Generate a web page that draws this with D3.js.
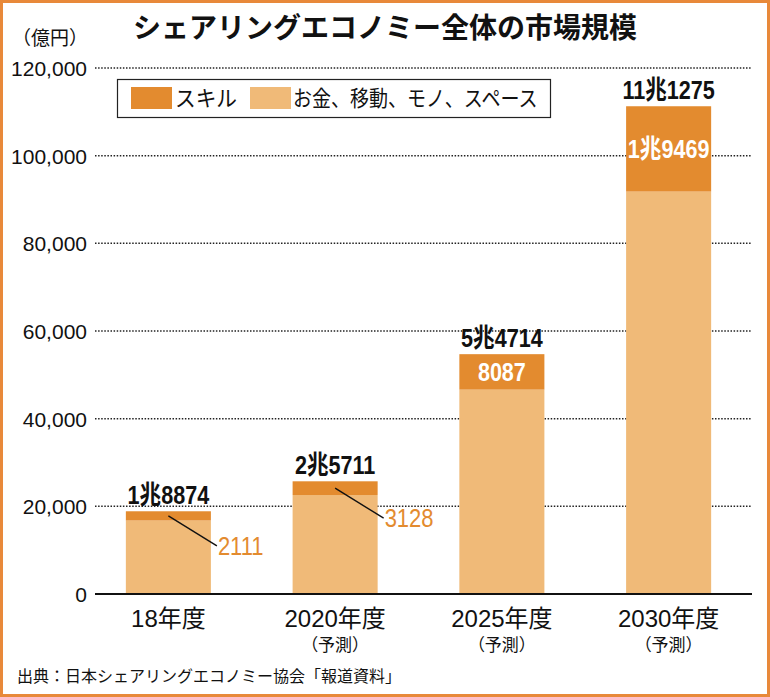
<!DOCTYPE html>
<html><head><meta charset="utf-8">
<script src="https://cdn.jsdelivr.net/npm/d3@7"></script>
<style>
body{margin:0;background:#fff;}
svg{display:block;}
text{font-family:"Liberation Sans","Noto Sans CJK JP",sans-serif;}
</style></head>
<body><svg id="c" width="770" height="697"></svg>
<script>
const categories = ["18年度","2020年度","2025年度","2030年度"];
const subLabels = ["","（予測）","（予測）","（予測）"];
const skill = [2111, 3128, 8087, 19469];
const others = [16763, 22583, 46627, 91806];
const totalLabels = ["1兆8874","2兆5711","5兆4714","11兆1275"];
const skillLabels = ["2111","3128","8087","1兆9469"];
const yTicks = [0,20000,40000,60000,80000,100000,120000];
const legendItems = ["スキル","お金、移動、モノ、スペース"];

const C_SKILL = "#E38B2F", C_OTHER = "#F0BA78", C_BORDER = "#E8893A";
const svg = d3.select("#c");
svg.append("rect").attr("x",1.5).attr("y",1.5).attr("width",767).attr("height",694)
  .attr("fill","#fff").attr("stroke",C_BORDER).attr("stroke-width",3);

function txt(x, y, s, size, opts={}){
  const t = svg.append("text")
    .attr("transform",`translate(${x},${y}) scale(${opts.sx||1},1)`)
    .attr("font-size",size).attr("fill",opts.fill||"#111")
    .attr("text-anchor",opts.anchor||"start").text(s);
  if(opts.bold) t.attr("font-weight","bold");
  if(opts.family) t.style("font-family",opts.family);
  return t;
}

const y = d3.scaleLinear().domain([0,120000]).range([594,68]);
const x = d3.scaleBand().domain(categories).range([85,752]).paddingInner(0.49).paddingOuter(0.245);

// y axis labels
const gAxis = svg.append("g").attr("transform","translate(93,0)")
  .call(d3.axisLeft(y).tickValues(yTicks).tickSize(0).tickPadding(5).tickFormat(d3.format(",")));
gAxis.select(".domain").remove();
gAxis.selectAll("text").attr("font-size",21).attr("fill","#111").attr("dx",-1).attr("dy","0.36em");
// dotted grid
svg.append("g").selectAll("line").data(yTicks.filter(d=>d>0)).join("line")
  .attr("x1",95).attr("x2",752).attr("y1",d=>y(d)).attr("y2",d=>y(d))
  .attr("stroke","#222").attr("stroke-width",1.5).attr("stroke-dasharray","1.5,1.6");

// bars
categories.forEach((c,i)=>{
  const bx = x(c), bw = x.bandwidth(), cx = bx+bw/2;
  svg.append("rect").attr("x",bx).attr("width",bw).attr("y",y(others[i])).attr("height",y(0)-y(others[i])).attr("fill",C_OTHER);
  svg.append("rect").attr("x",bx).attr("width",bw).attr("y",y(others[i]+skill[i])).attr("height",y(others[i])-y(others[i]+skill[i])).attr("fill",C_SKILL);
  txt(cx, y(others[i]+skill[i])-7, totalLabels[i], 26, {anchor:"middle", bold:true, sx:0.83});
  const midY = (y(others[i])+y(others[i]+skill[i]))/2;
  if(i<2){
    svg.append("line").attr("x1",cx).attr("y1",midY).attr("x2",bx+bw+6).attr("y2",midY+30).attr("stroke","#111").attr("stroke-width",1.4);
    txt(bx+bw+7, midY+39, skillLabels[i], 25, {fill:C_SKILL, sx:0.88});
  } else {
    txt(cx, midY+9, skillLabels[i], 26, {anchor:"middle", bold:true, fill:"#fff", sx:0.83});
  }
  txt(cx, 627, c, 24, {anchor:"middle"});
  if(subLabels[i]) txt(cx, 651, subLabels[i], 17, {anchor:"middle"});
});

// baseline
svg.append("line").attr("x1",95).attr("x2",752).attr("y1",y(0)).attr("y2",y(0)).attr("stroke","#111").attr("stroke-width",2);

// title
txt(385, 38, "シェアリングエコノミー全体の市場規模", 28, {anchor:"middle", bold:true, family:"'Noto Sans CJK JP',sans-serif"});
txt(12, 45, "（億円）", 19, {family:"'Noto Sans CJK JP',sans-serif"});

// legend
svg.append("rect").attr("x",117.5).attr("y",79.5).attr("width",433).attr("height",38).attr("fill","#fff").attr("stroke","#222").attr("stroke-width",1.2);
svg.append("rect").attr("x",131).attr("y",87).attr("width",41).attr("height",22).attr("fill",C_SKILL);
txt(175, 106, legendItems[0], 22, {sx:0.94, family:"'Noto Sans CJK JP',sans-serif"});
svg.append("rect").attr("x",250).attr("y",87).attr("width",41).attr("height",22).attr("fill",C_OTHER);
txt(293, 106, legendItems[1], 22, {sx:0.865, family:"'Noto Sans CJK JP',sans-serif"});

// source
txt(17, 682, "出典：日本シェアリングエコノミー協会「報道資料」", 16, {family:"'Noto Sans CJK JP',sans-serif"});
</script></body></html>
